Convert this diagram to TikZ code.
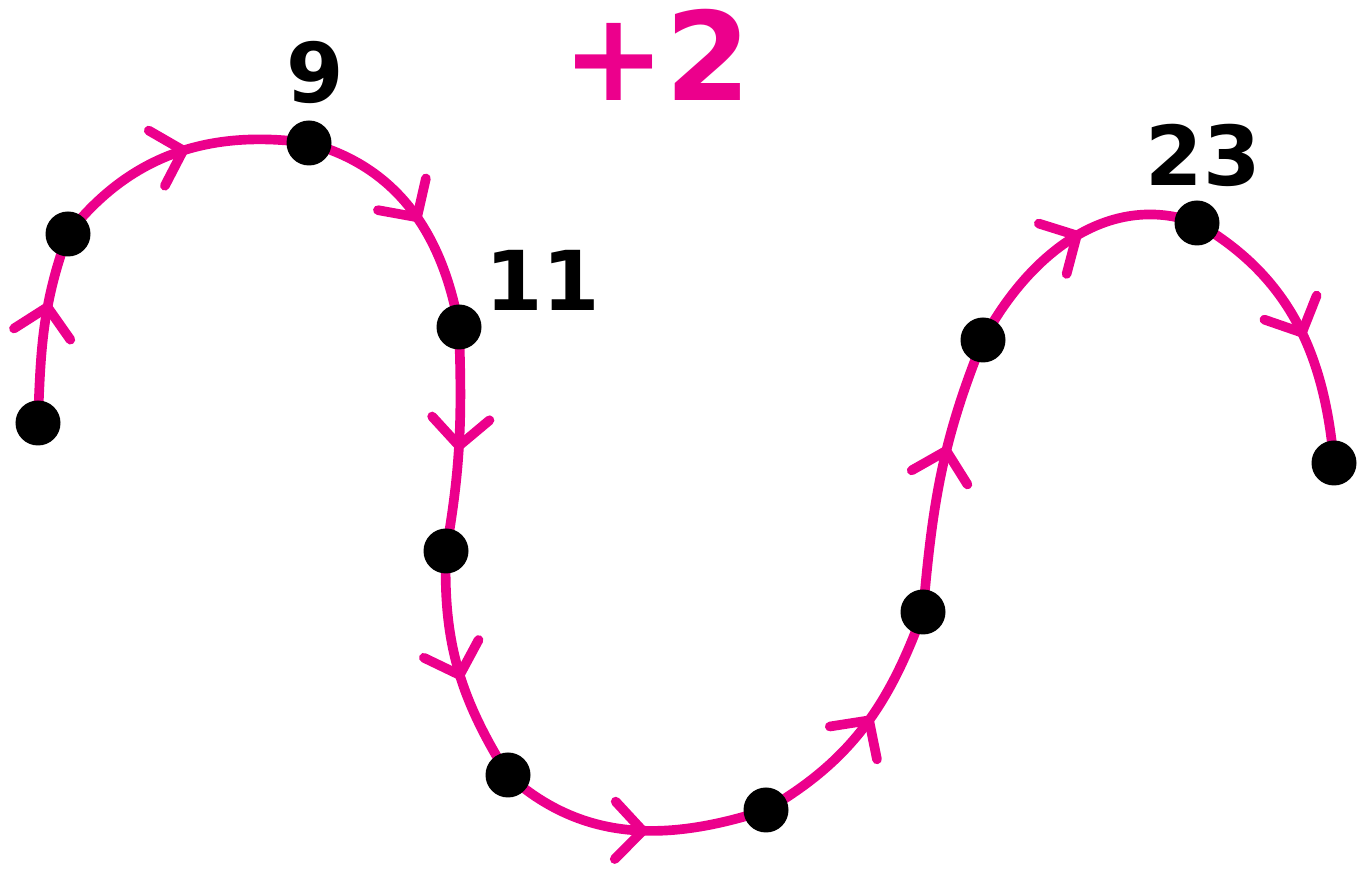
\documentclass[tikz,border=0pt]{standalone}
\usepackage{fontspec}
\setmainfont{DejaVu Sans}
\usetikzlibrary{arrows.meta,decorations.markings}
\definecolor{pathpink}{RGB}{236,0,140}
\tikzset{
  walk/.style={draw=pathpink, line width=5.5pt, line cap=round,
    postaction={decorate}, decoration={markings,
      mark=at position #1 with {\arrow{Straight Barb[length=0.55cm, width=1.15cm, round]}}}},
  walk/.default=0.55,
  num/.style={font=\fontsize{47}{50}\selectfont\bfseries, inner sep=0pt},
}
\begin{document}
\begin{tikzpicture}
  \useasboundingbox (0,0) rectangle (27.44,17.52);
  \coordinate (p1) at (0.76,9.06);
  \coordinate (p2) at (1.36,12.84);
  \coordinate (p3) at (6.18,14.66);
  \coordinate (p4) at (9.18,10.98);
  \coordinate (p5) at (8.92,6.50);
  \coordinate (p6) at (10.16,2.02);
  \coordinate (p7) at (15.32,1.32);
  \coordinate (p8) at (18.46,5.28);
  \coordinate (p9) at (19.66,10.72);
  \coordinate (p10) at (23.94,13.06);
  \coordinate (p11) at (26.68,8.26);
  % the walk
  \draw[walk=0.63] (p1) to[out=88, in=-110] (p2);
  \draw[walk] (p2) to[out=52, in=172] (p3);
  \draw[walk] (p3) to[out=-15, in=100] (p4);
  \draw[walk] (p4) to[out=-88, in=80] (p5);
  \draw[walk] (p5) to[out=-92, in=122] (p6);
  \draw[walk=0.56] (p6) to[out=-42, in=198] (p7);
  \draw[walk] (p7) to[out=30, in=250] (p8);
  \draw[walk=0.6] (p8) to[out=85, in=248] (p9);
  \draw[walk] (p9) to[out=62, in=160] (p10);
  \draw[walk] (p10) to[out=-30, in=95] (p11);
  \foreach \p in {p1,p2,p3,p4,p5,p6,p7,p8,p9,p10,p11}
    \fill (\p) circle (0.45);
  \node[num] (n9) at (6.30,16.08) {9};
  \node[num] (n11) at (10.85,11.92) {11};
  \node[num] (n23) at (24.06,14.42) {23};
  \node[num, text=pathpink, font=\fontsize{70}{74}\selectfont\bfseries] (plus) at (13.14,16.42) {+2};
\end{tikzpicture}
\end{document}
